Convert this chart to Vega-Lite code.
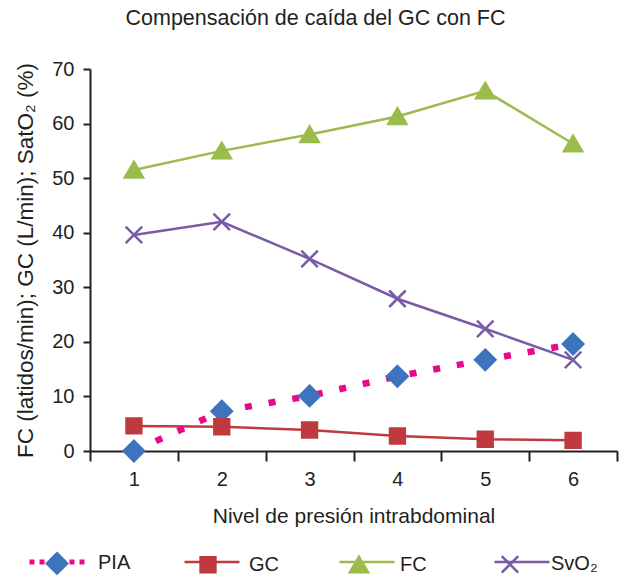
{
  "$schema": "https://vega.github.io/schema/vega-lite/v6.json",
  "width": 527,
  "height": 382,
  "autosize": "none",
  "padding": {"left": 90, "top": 69, "right": 3, "bottom": 127},
  "background": "white",
  "config": {
    "font": "Liberation Sans",
    "view": {"stroke": null},
    "axis": {"grid": false, "domainColor": "#231f20", "domainWidth": 2, "tickColor": "#231f20", "tickWidth": 2, "labelColor": "#231f20", "labelFontSize": 20, "titleColor": "#231f20", "titleFontSize": 21, "titleFontWeight": "normal", "labelFont": "Liberation Sans", "titleFont": "Liberation Sans"},
    "legend": {"labelFont": "Liberation Sans"}
  },
  "title": {
    "text": "Compensación de caída del GC con FC",
    "fontSize": 21.5,
    "fontWeight": "normal",
    "color": "#231f20",
    "anchor": "middle",
    "dx": -38,
    "baseline": "bottom",
    "offset": 8
  },
  "data": {
    "values": [
      {"nivel": 1, "serie": "PIA", "valor": 0},
      {"nivel": 2, "serie": "PIA", "valor": 7.3},
      {"nivel": 3, "serie": "PIA", "valor": 10.1},
      {"nivel": 4, "serie": "PIA", "valor": 13.7},
      {"nivel": 5, "serie": "PIA", "valor": 16.7},
      {"nivel": 6, "serie": "PIA", "valor": 19.6},
      {"nivel": 1, "serie": "GC", "valor": 4.6},
      {"nivel": 2, "serie": "GC", "valor": 4.45},
      {"nivel": 3, "serie": "GC", "valor": 3.85},
      {"nivel": 4, "serie": "GC", "valor": 2.75},
      {"nivel": 5, "serie": "GC", "valor": 2.15},
      {"nivel": 6, "serie": "GC", "valor": 1.95},
      {"nivel": 1, "serie": "FC", "valor": 51.5},
      {"nivel": 2, "serie": "FC", "valor": 55.0},
      {"nivel": 3, "serie": "FC", "valor": 58.0},
      {"nivel": 4, "serie": "FC", "valor": 61.3},
      {"nivel": 5, "serie": "FC", "valor": 66.0},
      {"nivel": 6, "serie": "FC", "valor": 56.3},
      {"nivel": 1, "serie": "SvO₂", "valor": 39.6},
      {"nivel": 2, "serie": "SvO₂", "valor": 42.0},
      {"nivel": 3, "serie": "SvO₂", "valor": 35.2},
      {"nivel": 4, "serie": "SvO₂", "valor": 27.9},
      {"nivel": 5, "serie": "SvO₂", "valor": 22.4},
      {"nivel": 6, "serie": "SvO₂", "valor": 16.7}
    ]
  },
  "encoding": {
    "x": {
      "field": "nivel",
      "type": "quantitative",
      "scale": {"domain": [0.5, 6.5], "nice": false, "zero": false},
      "axis": {
        "title": "Nivel de presión intrabdominal",
        "values": [0.5, 1.5, 2.5, 3.5, 4.5, 5.5, 6.5],
        "labelExpr": "datum.value < 6 ? format(datum.value + 0.5, 'd') : ''",
        "labelOffset": 43.9,
        "labelFlush": false,
        "labelOverlap": false,
        "labelBound": false,
        "tickSize": 10,
        "labelPadding": 8,
        "titlePadding": 16
      }
    },
    "y": {
      "field": "valor",
      "type": "quantitative",
      "scale": {"domain": [0, 70], "nice": false},
      "axis": {
        "title": "FC (latidos/min); GC (L/min); SatO₂ (%)",
        "values": [0, 10, 20, 30, 40, 50, 60, 70],
        "tickSize": 7,
        "labelPadding": 9,
        "titlePadding": 14,
        "titleFontSize": 22.5
      }
    }
  },
  "layer": [
    {
      "transform": [{"filter": "datum.serie !== 'PIA'"}],
      "mark": {"type": "line", "strokeWidth": 2.5},
      "encoding": {
        "color": {
          "field": "serie",
          "type": "nominal",
          "sort": ["PIA", "GC", "FC", "SvO₂"],
          "scale": {"range": ["#e8088a", "#be3a3e", "#9bbb4c", "#7a5ba6"]},
          "legend": {
            "title": null,
            "orient": "none",
            "legendX": -62,
            "legendY": 483,
            "direction": "horizontal",
            "columns": 4,
            "gridAlign": "all",
            "symbolType": "stroke",
            "symbolSize": 3025,
            "symbolStrokeWidth": 2.5,
            "symbolOffset": 19,
            "labelFontSize": 20,
            "labelExpr": "''",
            "labelOffset": 78,
            "columnPadding": 34,
            "encode": {
              "symbols": {
                "update": {
                  "strokeWidth": {"signal": "datum.value === 'PIA' ? 5 : 2.5"},
                  "strokeDash": {"signal": "datum.value === 'PIA' ? [5, 5] : [1, 0]"}
                }
              }
            }
          }
        }
      }
    },
    {
      "transform": [{"filter": "datum.serie === 'PIA'"}],
      "mark": {"type": "line", "strokeWidth": 6.5, "strokeDash": [7, 17], "strokeCap": "butt"},
      "encoding": {
        "color": {"field": "serie", "type": "nominal", "sort": ["PIA", "GC", "FC", "SvO₂"]}
      }
    },
    {
      "mark": {"type": "point", "filled": true, "size": 3025, "strokeWidth": 2.5, "opacity": 1},
      "encoding": {
        "shape": {
          "field": "serie",
          "type": "nominal",
          "scale": {"domain": ["PIA", "GC", "FC", "SvO₂"], "range": [
            "M0,-0.37L0.37,0L0,0.37L-0.37,0Z",
            "M-0.27,-0.27L0.27,-0.27L0.27,0.27L-0.27,0.27Z",
            "M0,-0.29L0.33,0.27L-0.33,0.27Z",
            "M-0.3,-0.3L0.3,0.3M-0.3,0.3L0.3,-0.3"
          ]},
          "legend": {
            "title": null,
            "orient": "none",
            "legendX": -62,
            "legendY": 465,
            "direction": "horizontal",
            "columns": 4,
            "gridAlign": "all",
            "symbolSize": 3025,
            "symbolStrokeWidth": 2.5,
            "labelFontSize": 20,
            "labelColor": "#231f20",
            "labelOffset": 12,
            "columnPadding": 34
          }
        },
        "fill": {
          "field": "serie",
          "type": "nominal",
          "scale": {"domain": ["PIA", "GC", "FC", "SvO₂"], "range": ["#3d74bd", "#be3a3e", "#9bbb4c", "#7a5ba6"]},
          "legend": {
            "title": null,
            "orient": "none",
            "legendX": -62,
            "legendY": 465,
            "direction": "horizontal",
            "columns": 4,
            "gridAlign": "all",
            "symbolSize": 3025,
            "symbolStrokeWidth": 2.5,
            "labelFontSize": 20,
            "labelColor": "#231f20",
            "labelOffset": 12,
            "columnPadding": 34
          }
        },
        "stroke": {
          "field": "serie",
          "type": "nominal",
          "scale": {"domain": ["PIA", "GC", "FC", "SvO₂"], "range": ["#3d74bd", "#be3a3e", "#9bbb4c", "#7a5ba6"]},
          "legend": {
            "title": null,
            "orient": "none",
            "legendX": -62,
            "legendY": 465,
            "direction": "horizontal",
            "columns": 4,
            "gridAlign": "all",
            "symbolSize": 3025,
            "symbolStrokeWidth": 2.5,
            "labelFontSize": 20,
            "labelColor": "#231f20",
            "labelOffset": 12,
            "columnPadding": 34
          }
        }
      }
    }
  ]
}
